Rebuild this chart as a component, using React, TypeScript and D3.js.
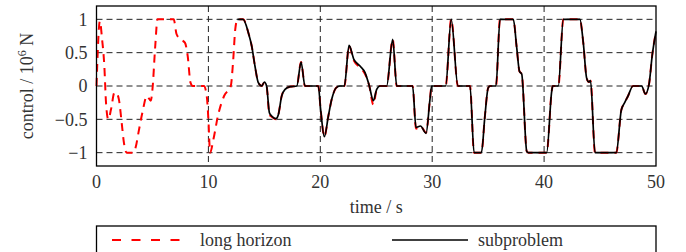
import React from "react";
import { scaleLinear, line, curveMonotoneX, format } from "d3";

const width = 686;
const height = 252;

// plot box in page pixels
const plot = { left: 96.5, right: 656, top: 6, bottom: 166 };

const fontFamily = "Liberation Serif, serif";
const longColor = "#ff0000";
const subColor = "#000000";

// tick values
const xTicks = [0, 10, 20, 30, 40, 50];
const yTicks = [-1, -0.5, 0, 0.5, 1];

// long horizon solution
const longTime = [
  0, 0.3, 0.5, 0.7, 0.85, 1.05, 1.3, 1.6, 1.75, 2.0, 2.25, 2.45, 2.7, 3.3, 3.5,
  3.75, 4.1, 4.5, 4.85, 5.0, 5.25, 5.45, 6.9, 7.15, 7.5, 7.9, 8.15, 8.4, 8.6,
  9.6, 9.85, 10.0, 10.15, 10.45, 10.85, 11.4, 12.0, 12.2, 12.4, 12.6, 13.1,
  13.57, 13.87, 14.16, 14.46, 14.76, 15.0, 15.2, 15.45, 15.65, 16.04, 16.25,
  16.55, 16.85, 17.3, 17.9, 18.28, 18.63, 19.82, 20.03, 20.36, 20.72, 21.02,
  21.4, 21.76, 22.15, 22.57, 23.0, 23.55, 24.0, 24.38, 24.74, 25.04, 25.34,
  25.93, 26.47, 26.83, 28.25, 28.55, 28.95, 29.45, 29.8, 29.95, 31.2, 31.7,
  32.3, 33.38, 33.74, 34.4, 34.7, 35.0, 35.17, 35.7, 36.06, 37.25, 37.55, 37.8,
  38.0, 38.45, 38.6, 40.23, 40.68, 40.77, 41.27, 41.72, 43.2, 43.5, 43.8, 44.0,
  44.15, 44.55, 46.45, 46.9, 47.2, 47.5, 47.95, 48.72, 49.05, 49.37, 49.67, 50,
];
const longValue = [
  0, 0.97, 0.7, 0.3, -0.25, -0.5, -0.35, -0.1, -0.1, -0.2, -0.55, -0.85, -1, -1,
  -0.92, -0.7, -0.4, -0.15, -0.22, -0.05, 0.6, 1, 1, 0.78, 0.7, 0.65, 0.45,
  0.05, 0, 0, -0.15, -0.5, -1, -0.8, -0.45, -0.15, 0, 0.35, 0.85, 1, 1, 0.8,
  0.6, 0.3, 0.05, 0, 0.05, 0, -0.43, -0.46, -0.5, -0.43, -0.15, -0.05, -0.01,
  0, 0.36, 0, 0, -0.35, -0.76, -0.45, -0.2, -0.03, 0, 0, 0.6, 0.38, 0.28, 0.18,
  0, -0.28, -0.05, 0, 0, 0.7, 0, 0, -0.64, -0.6, -0.7, -0.2, 0, 0, 1, 0, 0, -1,
  -1, -0.47, -0.03, 0, 0, 1, 1, 0.58, 0.22, 0.18, -0.98, -1, -1, -0.08, 0, 0, 1,
  1, 0.65, 0.12, 0.06, 0.08, -1, -1, -0.36, -0.25, -0.15, 0, 0, -0.12, 0.02,
  0.47, 0.82,
];

// subproblem solution, starts at about t = 12.6 s
const subTime = [
  12.6, 13.1, 13.57, 13.87, 14.16, 14.46, 14.76, 15.0, 15.2, 15.45, 15.65,
  16.04, 16.25, 16.55, 16.85, 17.3, 17.9, 18.28, 18.63, 19.82, 20.03, 20.36,
  20.72, 21.02, 21.4, 21.76, 22.15, 22.57, 23.0, 23.55, 24.0, 24.38, 24.74,
  25.04, 25.34, 25.93, 26.47, 26.83, 28.25, 28.55, 28.95, 29.45, 29.8, 29.95,
  31.2, 31.7, 32.3, 33.38, 33.74, 34.4, 34.7, 35.0, 35.17, 35.7, 36.06, 37.25,
  37.55, 37.8, 38.0, 38.45, 38.6, 40.23, 40.68, 40.77, 41.27, 41.72, 43.2,
  43.5, 43.8, 44.0, 44.15, 44.55, 46.45, 46.9, 47.2, 47.5, 47.95, 48.72, 49.05,
  49.37, 49.67, 50,
];
const subValue = [
  1, 1, 0.8, 0.6, 0.3, 0.05, 0, 0.06, 0, -0.4, -0.45, -0.49, -0.43, -0.15,
  -0.05, -0.01, 0, 0.36, 0, 0, -0.35, -0.76, -0.45, -0.2, -0.03, 0, 0, 0.61,
  0.4, 0.3, 0.2, 0, -0.22, -0.05, 0, 0, 0.7, 0, 0, -0.62, -0.6, -0.71, -0.2, 0,
  0, 1, 0, 0, -1, -1, -0.47, -0.03, 0, 0, 1, 1, 0.58, 0.22, 0.18, -0.98, -1, -1,
  -0.08, 0, 0, 1, 1, 0.65, 0.12, 0.06, 0.08, -1, -1, -0.36, -0.25, -0.15, 0, 0,
  -0.12, 0.02, 0.47, 0.82,
];

const legendLabels = ["long horizon", "subproblem"];

const textStyle = { fontFamily };

const App = () => {
  const xScale = scaleLinear().domain([0, 50]).range([plot.left, plot.right]);
  const yScale = scaleLinear().domain([-1.2, 1.2]).range([plot.bottom, plot.top]);
  const fmt = format("");

  const makePath = (ts: number[], vs: number[]) =>
    line<number>()
      .curve(curveMonotoneX)
      .x((d) => xScale(d))
      .y((_, i) => yScale(vs[i]))(ts);

  return (
    <svg
      width={width}
      height={height}
      style={{ position: "absolute", left: 0, top: 0, background: "#fff" }}
    >
      {/* grid */}
      <g stroke="#222" strokeWidth={1} strokeDasharray="6,4">
        {yTicks.map((t) => (
          <line key={"gy" + t} x1={plot.left} x2={plot.right} y1={yScale(t)} y2={yScale(t)} />
        ))}
        {xTicks
          .filter((t) => t > 0 && t < 50)
          .map((t) => (
            <line key={"gx" + t} x1={xScale(t)} x2={xScale(t)} y1={plot.top} y2={plot.bottom} />
          ))}
      </g>

      <path
        d={makePath(longTime, longValue) || ""}
        fill="none"
        stroke={longColor}
        strokeWidth={2}
        strokeDasharray="8,6"
      />
      <path
        d={makePath(subTime, subValue) || ""}
        fill="none"
        stroke={subColor}
        strokeWidth={1.7}
      />

      {/* frame */}
      <rect
        x={plot.left}
        y={plot.top}
        width={plot.right - plot.left}
        height={plot.bottom - plot.top}
        fill="none"
        stroke="#000"
        strokeWidth={1.3}
      />

      {/* y tick labels */}
      {yTicks.map((t) => (
        <text
          key={"yl" + t}
          x={plot.left - 9}
          y={yScale(t)}
          dy="0.35em"
          textAnchor="end"
          fontSize={18}
          fill="#333"
          style={textStyle}
        >
          {fmt(t)}
        </text>
      ))}
      {/* x tick labels */}
      {xTicks.map((t) => (
        <text
          key={"xl" + t}
          x={xScale(t)}
          y={188}
          textAnchor="middle"
          fontSize={18}
          fill="#333"
          style={textStyle}
        >
          {fmt(t)}
        </text>
      ))}

      <text
        x={(plot.left + plot.right) / 2}
        y={213}
        textAnchor="middle"
        fontSize={18}
        fill="#333"
        style={textStyle}
      >
        time / s
      </text>
      <text
        transform={`translate(33,${(plot.top + plot.bottom) / 2}) rotate(-90)`}
        textAnchor="middle"
        fontSize={18}
        fill="#333"
        style={textStyle}
      >
        control / 10
        <tspan fontSize={12} dy={-7}>
          6
        </tspan>
        <tspan dy={7}> N</tspan>
      </text>

      {/* legend */}
      <rect
        x={plot.left}
        y={226}
        width={plot.right - plot.left}
        height={40}
        fill="#fff"
        stroke="#000"
        strokeWidth={1.3}
      />
      <line
        x1={112}
        x2={184}
        y1={240}
        y2={240}
        stroke={longColor}
        strokeWidth={2}
        strokeDasharray="9,10.5"
      />
      <text x={200} y={246} fontSize={18} fill="#333" style={textStyle}>
        {legendLabels[0]}
      </text>
      <line x1={392} x2={468} y1={240} y2={240} stroke={subColor} strokeWidth={1.7} />
      <text x={478} y={246} fontSize={18} fill="#333" style={textStyle}>
        {legendLabels[1]}
      </text>
    </svg>
  );
};

export default App;
